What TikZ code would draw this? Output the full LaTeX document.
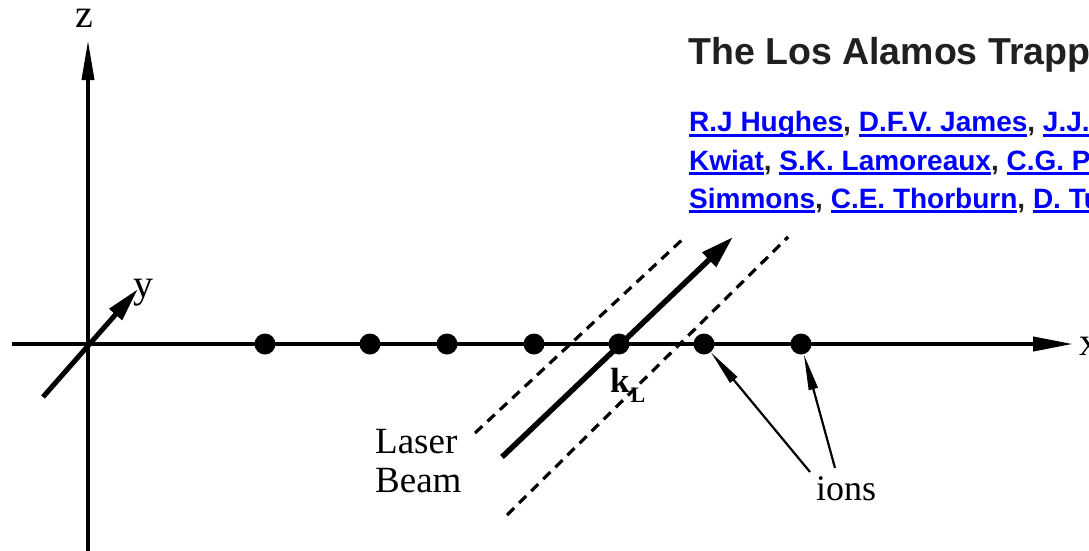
\documentclass[tikz,border=0pt]{standalone}
\usepackage{fontspec}
\setmainfont{Liberation Serif}
\newfontfamily\websans{Liberation Sans}
\usetikzlibrary{arrows.meta}
\definecolor{linkblue}{HTML}{0000FF}
\definecolor{titlegray}{HTML}{202020}
\newcommand\lnk[2][0pt]{{\color{linkblue}\setbox0\hbox{#2}\rlap{\rule[-5pt]{\dimexpr\wd0+#1\relax}{2.6pt}}\box0}}
\newcommand\cm{\textcolor{titlegray}{,} }
\tikzset{
  axisline/.style={line width=4pt},
  ion/.style={circle,fill=black,inner sep=0pt,minimum size=21pt},
  laserline/.style={line width=5.5pt,-{Triangle[length=33pt,width=19pt]}},
  beamedge/.style={line width=3.2pt,dash pattern=on 10pt off 7pt},
  ionarrow/.style={line width=2.2pt,-{Triangle[length=36pt,width=9pt]}},
  figlabel/.style={inner sep=0pt,anchor=base west,font=\fontsize{37}{39}\selectfont},
  axislabel/.style={inner sep=0pt,anchor=base west,text height=19pt,text depth=0pt,font=\fontsize{40}{40}\selectfont},
  webtitle/.style={inner sep=0pt,anchor=base west,text=titlegray,font=\websans\bfseries\fontsize{37.5}{40}\selectfont},
  weblink/.style={inner sep=0pt,anchor=base west,font=\websans\bfseries\fontsize{28}{33}\selectfont}
}
\begin{document}
\begin{tikzpicture}[x=1pt,y=-1pt]
\useasboundingbox (0,0) rectangle (1089,551);
\fill[white] (0,0) rectangle (1089,551);
\clip (0,0) rectangle (1089,551);

% header text
\node[webtitle] (title) at (688,65) {The Los Alamos Trapp};
\node[weblink] (auth1) at (689,131.5) {\lnk{R.J Hughes}\cm\lnk{D.F.V. James}\cm\lnk[80pt]{J.J.}};
\node[weblink] (auth2) at (689,170) {\lnk{Kwiat}\cm\lnk{S.K. Lamoreaux}\cm\lnk[80pt]{C.G. P}};
\node[weblink] (auth3) at (689,208) {\lnk{Simmons}\cm\lnk{C.E. Thorburn}\cm\lnk[80pt]{D. Tu}};

% axes
\coordinate (origin) at (88,344);
\coordinate (xs) at (12,344);
\coordinate (xe) at (1073,344);
\coordinate (zs) at (88,560);
\coordinate (ze) at (88,40);
\coordinate (ys) at (43,397);
\coordinate (ye) at (138,289);
\draw[axisline,-{Triangle[length=40pt,width=14pt]}] (xs) -- (xe);
\draw[line width=3.8pt,-{Triangle[length=40pt,width=12pt]}] (zs) -- (ze);
\draw[line width=5pt,-{Triangle[length=34pt,width=16pt]}] (ys) -- (ye);
\node[axislabel] (zl) at (75,28) {z};
\node[axislabel] (yl) at (133,297) {y};
\node[axislabel] (xl) at (1079,355) {x};

% ions
\node[ion] (i1) at (265,344) {};
\node[ion] (i2) at (370,344) {};
\node[ion] (i3) at (447,344) {};
\node[ion] (i4) at (534,344) {};
\node[ion] (i5) at (619,344) {};
\node[ion] (i6) at (704,344) {};
\node[ion] (i7) at (801,344) {};

% laser beam
\coordinate (lb) at (502,457);
\coordinate (lt) at (733,237);
\coordinate (ua) at (475,433);
\coordinate (ub) at (684,238);
\coordinate (da) at (507,515);
\coordinate (db) at (788,237);
\draw[beamedge] (ua) -- (ub);
\draw[beamedge] (da) -- (db);
\draw[laserline] (lb) -- (lt);

% labels
\node[figlabel] (laser) at (375,453) {Laser};
\node[figlabel] (beam) at (375,492) {Beam};
\node[inner sep=0pt,anchor=base west] (kl) at (610,392)
  {\fontsize{35}{35}\selectfont\bfseries k\kern1pt\raisebox{-10pt}{\fontsize{22}{22}\selectfont\bfseries L}};
\node[inner sep=0pt,anchor=base west,font=\fontsize{36}{36}\selectfont] (ions) at (816,500) {ions};

% pointers
\coordinate (p1) at (810,472);
\coordinate (p2) at (835,468);
\draw[ionarrow] (p1) -- (i6);
\draw[ionarrow] (p2) -- (i7);
\end{tikzpicture}
\end{document}
